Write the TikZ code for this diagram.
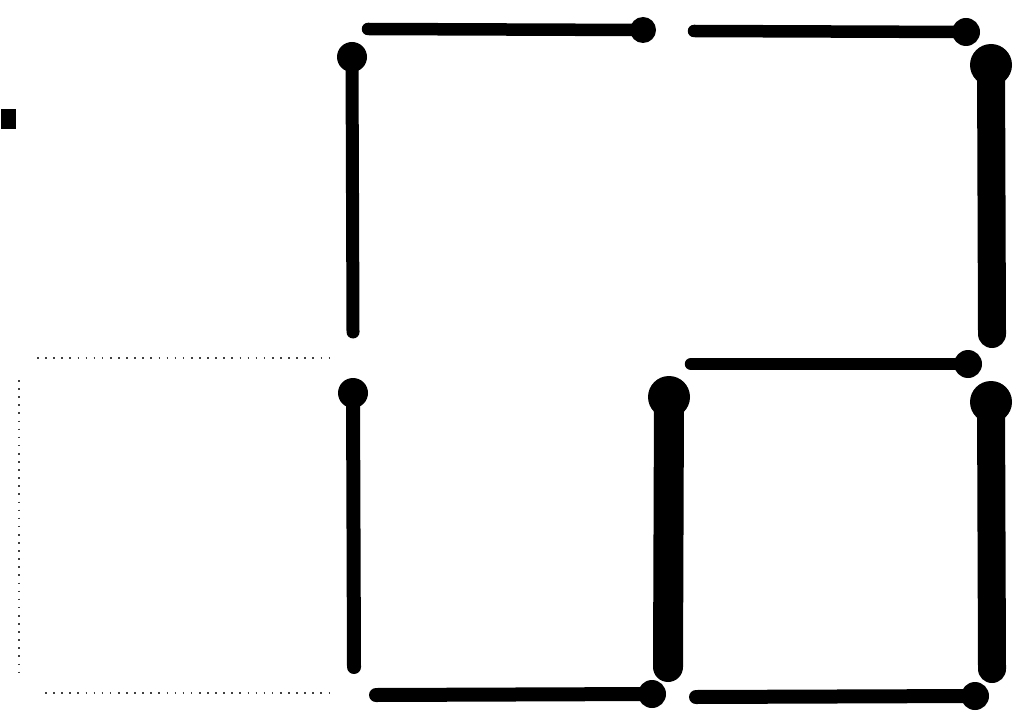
\documentclass[tikz,border=0pt]{standalone}
\tikzset{
  thinstick/.style={line width=12.5pt, line cap=round, black},
  thickstick/.style={line width=28pt, line cap=round, black},
  matchhead/.style={fill=black},
  dotline/.style={line width=1.6pt, black!75, dash pattern=on 1.6pt off 6.5pt}
}
\begin{document}
\begin{tikzpicture}[x=1pt,y=-1pt]
\useasboundingbox[fill=white] (0,0) rectangle (1030,711);
% small square marker
\fill[black] (1,109) rectangle (16,129);
% dotted outline on the left
\coordinate (dTL) at (37,358);
\coordinate (dTR) at (332,358);
\coordinate (dLT) at (19,380);
\coordinate (dLB) at (19,672);
\coordinate (dBL) at (45,693);
\coordinate (dBR) at (332,693);
\draw[dotline] (dTL) -- (dTR);
\draw[dotline] (dLT) -- (dLB);
\draw[dotline] (dBL) -- (dBR);
% match 1: top left horizontal
\coordinate (m1a) at (368,29); \coordinate (m1h) at (643,30);
\draw[thinstick] (m1a) -- (m1h); \fill[matchhead] (m1h) circle (13);
% match 2: top right horizontal
\coordinate (m2a) at (694,31); \coordinate (m2h) at (966,32);
\draw[thinstick] (m2a) -- (m2h); \fill[matchhead] (m2h) circle (14);
% match 3: left vertical top
\coordinate (m3h) at (352,57); \coordinate (m3a) at (353,332);
\draw[line width=13pt, line cap=round] (m3h) -- (m3a); \fill[matchhead] (m3h) circle (15);
% match 4: right vertical top
\coordinate (m4h) at (991,65); \coordinate (m4a) at (992,334);
\draw[thickstick] (m4h) -- (m4a); \fill[matchhead] (m4h) circle (21);
% match 5: middle horizontal
\coordinate (m5a) at (691,364); \coordinate (m5h) at (968,364);
\draw[thinstick] (m5a) -- (m5h); \fill[matchhead] (m5h) circle (14);
% match 6: left vertical bottom
\coordinate (m6h) at (353,393); \coordinate (m6a) at (354,667);
\draw[line width=14pt, line cap=round] (m6h) -- (m6a); \fill[matchhead] (m6h) circle (15);
% match 7: middle vertical bottom
\coordinate (m7h) at (669,397); \coordinate (m7a) at (668,667);
\draw[line width=30pt, line cap=round] (m7h) -- (m7a); \fill[matchhead] (m7h) circle (21);
% match 8: right vertical bottom
\coordinate (m8h) at (991,402); \coordinate (m8a) at (992,669);
\draw[thickstick] (m8h) -- (m8a); \fill[matchhead] (m8h) circle (21);
% match 9: bottom left horizontal
\coordinate (m9a) at (376,695); \coordinate (m9h) at (652,694);
\draw[line width=14pt, line cap=round] (m9a) -- (m9h); \fill[matchhead] (m9h) circle (14);
% match 10: bottom right horizontal
\coordinate (m10a) at (696,697); \coordinate (m10h) at (975,696);
\draw[line width=14pt, line cap=round] (m10a) -- (m10h); \fill[matchhead] (m10h) circle (14);
\end{tikzpicture}
\end{document}
